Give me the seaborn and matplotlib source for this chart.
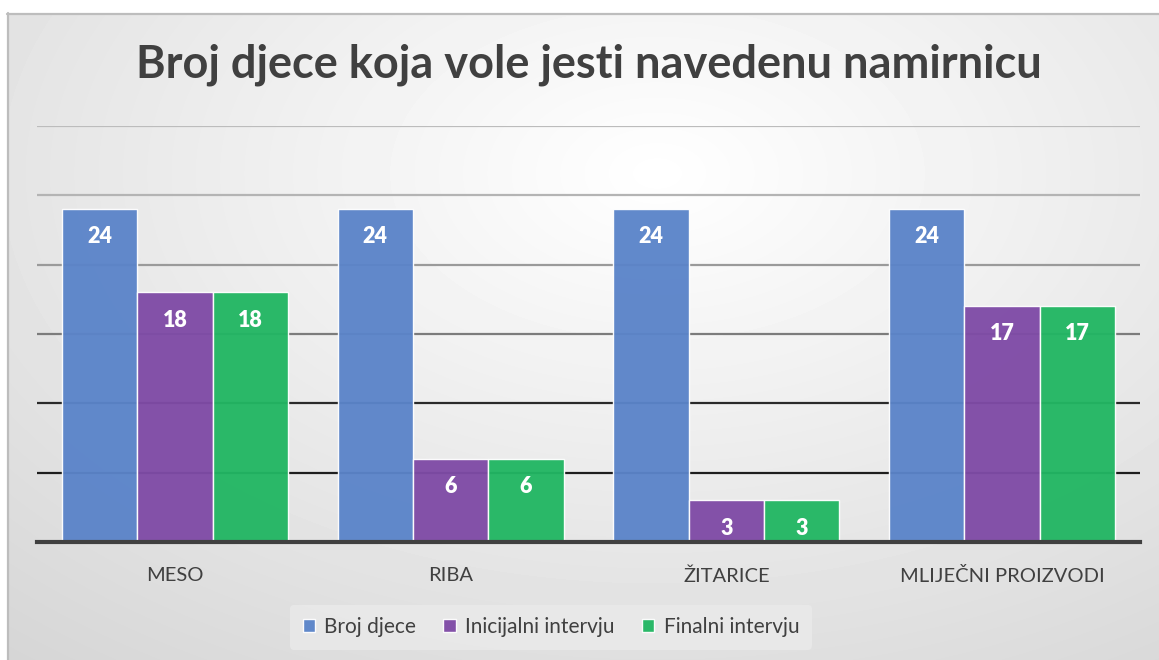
import numpy as np
import pandas as pd
import matplotlib
matplotlib.use("Agg")
import matplotlib.pyplot as plt
import seaborn as sns

# Data
categories = ["MESO", "RIBA", "ŽITARICE", "MLIJEČNI PROIZVODI"]
series_names = ["Broj djece", "Inicijalni intervju", "Finalni intervju"]
broj_djece = [24, 24, 24, 24]
inicijalni = [18, 6, 3, 17]
finalni = [18, 6, 3, 17]
y_ticks = [0, 5, 10, 15, 20, 25, 30]

colors = ["#5b84c9", "#7f4ba6", "#22b663"]

df = pd.DataFrame({
    "kategorija": categories * 3,
    "serija": [series_names[0]] * 4 + [series_names[1]] * 4 + [series_names[2]] * 4,
    "broj": broj_djece + inicijalni + finalni,
})

sns.set_theme(style="white")
plt.rcParams["font.family"] = ["Lato", "DejaVu Sans"]

W, H = 1159, 660
fig = plt.figure(figsize=(W / 100, H / 100), dpi=100)
fig.patch.set_facecolor("white")

# Chart-area background with a soft radial gradient
bg = fig.add_axes([7 / W, 0, 1 - 7 / W, (H - 13) / H])
bw, bh = W - 7, H - 13
xx, yy = np.meshgrid(np.arange(bw), np.arange(bh))
d = np.sqrt((xx - 650) ** 2 + (1.6 * (yy - 160)) ** 2)
v = np.clip(255 - 0.041 * d, 212, 255) / 255.0
bg.imshow(v, cmap="gray", vmin=0, vmax=1, aspect="auto", interpolation="bilinear")
bg.set_axis_off()
fig.add_artist(plt.Line2D([7 / W, 1], [(H - 13.5) / H] * 2, color="#bdbdbd", lw=1.6))
fig.add_artist(plt.Line2D([7.5 / W] * 2, [0, (H - 13) / H], color="#bdbdbd", lw=1.6))

# Main plot
ax = fig.add_axes([37 / W, (H - 542) / H, (1140 - 37) / W, (542 - 126) / H])
ax.set_facecolor("none")

grid_colors = {5: "#1e1e1e", 10: "#2a2a2a", 15: "#7c7c7c", 20: "#9a9a9a", 25: "#b4b4b4", 30: "#bcbcbc"}
for t in y_ticks[1:]:
    ax.axhline(t, color=grid_colors[t], lw=1.6, zorder=0)

sns.barplot(data=df, x="kategorija", y="broj", hue="serija", order=categories,
            hue_order=series_names, palette=colors, saturation=1, width=0.82, dodge=True,
            edgecolor="white", linewidth=1.0, alpha=0.96, ax=ax, zorder=2,
            err_kws={"linewidth": 0})

for cont in ax.containers:
    for rect in cont:
        h = rect.get_height()
        ax.text(rect.get_x() + rect.get_width() / 2, h - 2.0, f"{h:.0f}",
                ha="center", va="center", color="white", fontsize=15.5,
                fontweight="heavy", zorder=5)

ax.set_xlim(-0.5, 3.5)
ax.set_ylim(0, 30)
ax.set_yticks([])
ax.set_xlabel("")
ax.set_ylabel("")
for s in ["top", "right", "left"]:
    ax.spines[s].set_visible(False)
ax.spines["bottom"].set_color("#404040")
ax.spines["bottom"].set_linewidth(3)
ax.spines["bottom"].set_zorder(6)
ax.tick_params(axis="x", length=0, pad=18, labelsize=14.5, labelcolor="#404040")

leg = ax.legend(loc="center", bbox_to_anchor=(551 / W, 1 - 627 / H), bbox_transform=fig.transFigure,
                ncol=3, frameon=True, fontsize=15, handlelength=0.6, handleheight=0.6,
                handletextpad=0.45, columnspacing=1.3, borderpad=0.6, borderaxespad=0)
leg.get_frame().set_facecolor("#e9e9e9")
leg.get_frame().set_edgecolor("none")
leg.get_frame().set_alpha(0.9)
for t in leg.get_texts():
    t.set_color("#404040")

fig.text(589 / W, 1 - 65 / H, "Broj djece koja vole jesti navedenu namirnicu",
         ha="center", va="center", fontsize=32.5, fontweight="bold", color="#404040")

fig.savefig("out.png", dpi=100)
